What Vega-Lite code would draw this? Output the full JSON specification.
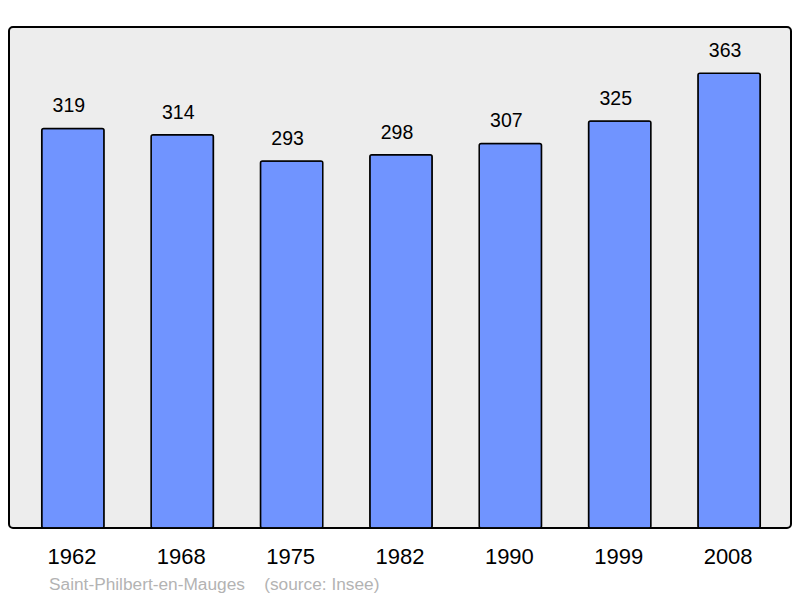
{
  "$schema": "https://vega.github.io/schema/vega-lite/v6.json",
  "width": 782,
  "height": 501,
  "autosize": {"type": "none"},
  "padding": {"left": 9, "top": 27, "right": 9, "bottom": 70},
  "background": "#ffffff",
  "config": {
    "view": {"fill": "#ededed", "stroke": "#000000", "strokeWidth": 2, "cornerRadius": 4},
    "font": "Liberation Sans"
  },
  "title": {
    "text": "Saint-Philbert-en-Mauges\u00a0\u00a0\u00a0\u00a0(source: Insee)",
    "orient": "bottom",
    "anchor": "start",
    "frame": "group",
    "dx": 40,
    "offset": 9,
    "fontSize": 17.3,
    "fontWeight": "normal",
    "color": "#b3b3b3",
    "font": "Liberation Sans"
  },
  "data": {
    "values": [
      {"year": "1962", "pop": 319},
      {"year": "1968", "pop": 314},
      {"year": "1975", "pop": 293},
      {"year": "1982", "pop": 298},
      {"year": "1990", "pop": 307},
      {"year": "1999", "pop": 325},
      {"year": "2008", "pop": 363}
    ]
  },
  "encoding": {
    "x": {
      "field": "year",
      "type": "ordinal",
      "scale": {"paddingInner": 0.43, "paddingOuter": 0.29},
      "axis": {
        "title": null,
        "labelAngle": 0,
        "labelFontSize": 22,
        "labelColor": "#000000",
        "labelPadding": 18,
        "ticks": false,
        "domain": false,
        "grid": false
      }
    },
    "y": {
      "field": "pop",
      "type": "quantitative",
      "scale": {"domain": [0, 400], "nice": false},
      "axis": null
    }
  },
  "layer": [
    {
      "mark": {"type": "bar", "fill": "#7094ff", "stroke": "#000000", "strokeWidth": 1.5, "cornerRadius": 2, "xOffset": 1}
    },
    {
      "mark": {"type": "text", "baseline": "bottom", "dy": -12, "fontSize": 19.5, "color": "#000000", "dx": -3},
      "encoding": {"text": {"field": "pop", "type": "quantitative"}}
    }
  ]
}
